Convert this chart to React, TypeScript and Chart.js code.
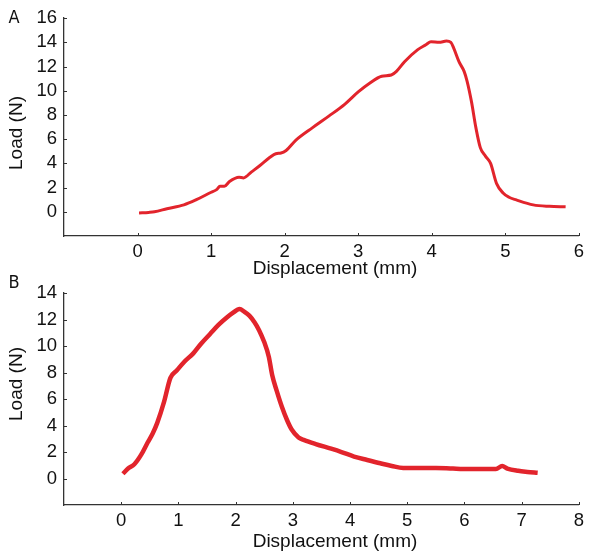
import React, { useEffect, useRef } from "react";
import { Chart, registerables } from "chart.js";
Chart.register(...registerables);

// Panel A: displacement (mm) and load (N)
const A_DISP = [0.02, 0.15, 0.23, 0.4, 0.63, 0.8, 0.98, 1.08, 1.12, 1.18, 1.25, 1.38, 1.44, 1.55, 1.66, 1.8, 1.88, 1.95, 2.02, 2.15, 2.38, 2.6, 2.82, 3.0, 3.15, 3.32, 3.45, 3.52, 3.63, 3.81, 3.92, 3.99, 4.1, 4.2, 4.26, 4.3, 4.37, 4.44, 4.48, 4.54, 4.6, 4.66, 4.73, 4.8, 4.88, 4.97, 5.05, 5.15, 5.38, 5.6, 5.82];
const A_LOAD = [-0.1, -0.05, 0.0, 0.25, 0.57, 1.0, 1.55, 1.85, 2.1, 2.1, 2.5, 2.85, 2.8, 3.3, 3.8, 4.5, 4.8, 4.85, 5.06, 5.9, 6.95, 7.9, 8.9, 9.9, 10.6, 11.2, 11.3, 11.6, 12.4, 13.4, 13.8, 14.05, 14.0, 14.1, 14.0, 13.5, 12.4, 11.6, 10.8, 9.1, 6.95, 5.3, 4.6, 4.0, 2.35, 1.55, 1.2, 0.98, 0.57, 0.45, 0.41];
const A_X_TICKS = [0, 1, 2, 3, 4, 5, 6];
const A_Y_TICKS = [0, 2, 4, 6, 8, 10, 12, 14, 16];

// Panel B
const B_DISP = [0.03, 0.12, 0.23, 0.35, 0.46, 0.55, 0.63, 0.75, 0.86, 0.97, 1.1, 1.26, 1.4, 1.55, 1.7, 1.83, 1.95, 2.07, 2.15, 2.24, 2.33, 2.41, 2.5, 2.58, 2.64, 2.72, 2.81, 2.9, 2.98, 3.1, 3.2, 3.4, 3.67, 3.85, 4.07, 4.3, 4.53, 4.73, 4.93, 5.2, 5.5, 5.8, 6.08, 6.3, 6.55, 6.66, 6.75, 6.94, 7.1, 7.28];
const B_LOAD = [0.36, 0.75, 1.08, 1.8, 2.7, 3.4, 4.2, 5.8, 7.6, 8.15, 8.8, 9.45, 10.2, 10.9, 11.6, 12.1, 12.5, 12.8, 12.6, 12.3, 11.8, 11.2, 10.3, 9.2, 7.8, 6.6, 5.4, 4.4, 3.7, 3.1, 2.9, 2.6, 2.25, 2.0, 1.66, 1.4, 1.15, 0.95, 0.8, 0.8, 0.8, 0.75, 0.72, 0.72, 0.72, 0.94, 0.75, 0.58, 0.5, 0.43];
const B_X_TICKS = [0, 1, 2, 3, 4, 5, 6, 7, 8];
const B_Y_TICKS = [0, 2, 4, 6, 8, 10, 12, 14];

const X_TITLE = "Displacement (mm)";
const Y_TITLE = "Load (N)";

const FONT = "'Liberation Sans', Arial, sans-serif";
const RED = "#e2242c";
const AXIS = "#333333";

type PanelProps = {
  label: string;
  xs: number[];
  ys: number[];
  xMin: number;
  xMax: number;
  yMin: number;
  yMax: number;
  xTicks: number[];
  yTicks: number[];
  top: number;
  height: number;
  padTop: number;
  xAxisHeight: number;
  lineWidth: number;
  xTitleY: number;
  yTitleY: number;
  labelY: number;
};

function Panel(p: PanelProps) {
  const ref = useRef<HTMLCanvasElement | null>(null);
  useEffect(() => {
    if (!ref.current) return;
    const overlay = {
      id: "overlay",
      afterDraw(chart: any) {
        const ctx = chart.ctx as CanvasRenderingContext2D;
        const xs = chart.scales.x;
        const ys = chart.scales.y;
        const area = chart.chartArea;
        ctx.save();
        ctx.strokeStyle = AXIS;
        ctx.lineWidth = 1;
        for (const v of p.xTicks) {
          const px = Math.round(xs.getPixelForValue(v)) + 0.5;
          ctx.beginPath();
          ctx.moveTo(px, area.bottom);
          ctx.lineTo(px, area.bottom - 3);
          ctx.stroke();
        }
        for (const v of p.yTicks) {
          const py = Math.round(ys.getPixelForValue(v)) + 0.5;
          ctx.beginPath();
          ctx.moveTo(area.left, py);
          ctx.lineTo(area.left + 3, py);
          ctx.stroke();
        }
        ctx.fillStyle = "#111";
        ctx.font = `19px ${FONT}`;
        ctx.textAlign = "center";
        ctx.textBaseline = "middle";
        ctx.fillText(X_TITLE, 335, p.xTitleY - p.top);
        ctx.save();
        ctx.translate(17, p.yTitleY - p.top);
        ctx.rotate(-Math.PI / 2);
        ctx.fillText(Y_TITLE, 0, 0);
        ctx.restore();
        ctx.font = `18px 'DejaVu Sans Condensed', ${FONT}`;
        ctx.fillText(p.label, 14, p.labelY - p.top);
        ctx.restore();
      },
    };
    const chart = new Chart(ref.current, {
      type: "line",
      data: {
        datasets: [
          {
            data: p.xs.map((x, i) => ({ x, y: p.ys[i] })),
            borderColor: RED,
            borderWidth: p.lineWidth,
            pointRadius: 0,
            cubicInterpolationMode: "monotone",
            fill: false,
          },
        ],
      },
      options: {
        animation: false,
        responsive: false,
        maintainAspectRatio: false,
        layout: { padding: { top: p.padTop, right: 3, left: 0, bottom: 0 } },
        plugins: { legend: { display: false }, tooltip: { enabled: false }, title: { display: false } },
        scales: {
          x: {
            type: "linear",
            min: p.xMin,
            max: p.xMax,
            afterBuildTicks: (s: any) => {
              s.ticks = p.xTicks.map((v) => ({ value: v }));
            },
            afterFit: (s: any) => {
              s.height = p.xAxisHeight;
            },
            grid: { display: true, drawOnChartArea: false, drawTicks: false },
            border: { display: true, color: AXIS, width: 1.3 },
            ticks: { color: "#111", font: { family: FONT, size: 18.5 }, padding: 5, maxRotation: 0, autoSkip: false },
          },
          y: {
            type: "linear",
            min: p.yMin,
            max: p.yMax,
            afterBuildTicks: (s: any) => {
              s.ticks = p.yTicks.map((v) => ({ value: v }));
            },
            afterFit: (s: any) => {
              s.width = 64;
            },
            grid: { display: true, drawOnChartArea: false, drawTicks: false },
            border: { display: true, color: AXIS, width: 1.3 },
            ticks: { color: "#111", font: { family: FONT, size: 18.5 }, padding: 7, autoSkip: false },
          },
        },
      },
      plugins: [overlay],
    } as any);
    return () => chart.destroy();
  }, []);
  return (
    <canvas
      ref={ref}
      width={589}
      height={p.height}
      style={{ position: "absolute", left: 0, top: p.top, width: 589, height: p.height }}
    />
  );
}

export default function App() {
  return (
    <div style={{ position: "fixed", left: 0, top: 0, width: 589, height: 555, background: "#fff", overflow: "hidden" }}>
      <Panel
        label="A"
        xs={A_DISP}
        ys={A_LOAD}
        xMin={-1}
        xMax={6}
        yMin={-2}
        yMax={16}
        xTicks={A_X_TICKS}
        yTicks={A_Y_TICKS}
        top={0}
        height={285}
        padTop={17}
        xAxisHeight={49}
        lineWidth={3}
        xTitleY={269}
        yTitleY={133}
        labelY={18}
      />
      <Panel
        label="B"
        xs={B_DISP}
        ys={B_LOAD}
        xMin={-1}
        xMax={8}
        yMin={-2}
        yMax={14}
        xTicks={B_X_TICKS}
        yTicks={B_Y_TICKS}
        top={275}
        height={280}
        padTop={8}
        xAxisHeight={50}
        lineWidth={4.5}
        xTitleY={542}
        yTitleY={384}
        labelY={283}
      />
    </div>
  );
}
